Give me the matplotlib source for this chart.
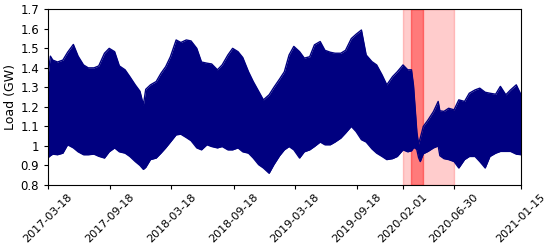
import matplotlib
matplotlib.use("Agg")
import matplotlib.pyplot as plt
import matplotlib.dates as mdates
import pandas as pd

# envelope of the hourly load (GW)
dates = [
    "2017-03-18", "2017-03-25", "2017-04-01", "2017-04-15", "2017-05-01", "2017-05-15",
    "2017-06-01", "2017-06-15", "2017-07-01", "2017-07-15", "2017-08-01", "2017-08-15",
    "2017-09-01", "2017-09-15", "2017-10-01", "2017-10-15", "2017-11-01", "2017-11-15",
    "2017-12-01", "2017-12-15", "2017-12-25", "2018-01-01", "2018-01-15", "2018-02-01",
    "2018-02-15", "2018-03-01", "2018-03-15", "2018-04-01", "2018-04-15", "2018-05-01",
    "2018-05-15", "2018-06-01", "2018-06-15", "2018-07-01", "2018-07-15", "2018-08-01",
    "2018-08-15", "2018-09-01", "2018-09-15", "2018-10-01", "2018-10-15", "2018-11-01",
    "2018-11-15", "2018-12-01", "2018-12-15", "2019-01-01", "2019-01-15", "2019-02-01",
    "2019-02-15", "2019-03-01", "2019-03-15", "2019-04-01", "2019-04-15", "2019-05-01",
    "2019-05-15", "2019-06-01", "2019-06-15", "2019-07-01", "2019-07-15", "2019-08-01",
    "2019-08-15", "2019-09-01", "2019-09-15", "2019-10-01", "2019-10-15", "2019-11-01",
    "2019-11-15", "2019-12-01", "2019-12-15", "2020-01-01", "2020-01-15", "2020-02-01",
    "2020-02-15", "2020-02-26", "2020-03-03", "2020-03-08", "2020-03-13", "2020-03-18",
    "2020-03-23", "2020-04-01", "2020-04-15", "2020-05-01", "2020-05-15", "2020-05-20",
    "2020-06-01", "2020-06-15", "2020-07-01", "2020-07-15", "2020-08-01", "2020-08-15",
    "2020-09-01", "2020-09-15", "2020-10-01", "2020-10-15", "2020-11-01", "2020-11-15",
    "2020-12-01", "2020-12-15", "2021-01-01", "2021-01-15",
]
load_high = [
    1.36, 1.46, 1.44, 1.43, 1.44, 1.48,
    1.52, 1.46, 1.415, 1.40, 1.40, 1.41,
    1.475, 1.50, 1.483, 1.41, 1.39, 1.355,
    1.313, 1.28, 1.21, 1.29, 1.313, 1.33,
    1.372, 1.406, 1.457, 1.543, 1.53, 1.543,
    1.538, 1.50, 1.43, 1.424, 1.42, 1.39,
    1.415, 1.466, 1.50, 1.483, 1.453, 1.38,
    1.33, 1.28, 1.236, 1.262, 1.30, 1.343,
    1.38, 1.466, 1.51, 1.483, 1.45, 1.457,
    1.518, 1.535, 1.49, 1.48, 1.475, 1.475,
    1.49, 1.55, 1.572, 1.594, 1.466, 1.432,
    1.415, 1.364, 1.313, 1.355, 1.38, 1.415,
    1.39, 1.39, 1.31, 1.19, 1.07, 1.01,
    1.04, 1.10, 1.133, 1.176, 1.228, 1.18,
    1.177, 1.193, 1.185, 1.236, 1.228, 1.27,
    1.287, 1.296, 1.275, 1.27, 1.265, 1.305,
    1.262, 1.287, 1.313, 1.262,
]
load_low = [
    0.94, 0.95, 0.958, 0.955, 0.963, 1.006,
    0.99, 0.97, 0.955, 0.955, 0.958, 0.947,
    0.938, 0.97, 0.99, 0.97, 0.963, 0.946,
    0.92, 0.90, 0.88, 0.89, 0.93, 0.938,
    0.963, 0.99, 1.02, 1.057, 1.06, 1.043,
    1.027, 0.99, 0.98, 1.006, 0.997, 0.99,
    0.997, 0.98, 0.98, 0.99, 0.97, 0.963,
    0.938, 0.904, 0.887, 0.86, 0.904, 0.95,
    0.98, 0.997, 0.98, 0.938, 0.97, 0.98,
    0.997, 1.02, 1.006, 1.006, 1.02, 1.04,
    1.066, 1.10, 1.074, 1.032, 1.02, 0.985,
    0.963, 0.946, 0.93, 0.935, 0.946, 0.98,
    0.97, 0.975, 0.99, 0.99, 0.98, 0.94,
    0.92, 0.96, 0.972, 0.99, 1.0, 0.95,
    0.935, 0.93, 0.92, 0.887, 0.93, 0.946,
    0.946, 0.92, 0.887, 0.946, 0.963, 0.972,
    0.972, 0.972, 0.958, 0.955,
]

tick_dates = ["2017-03-18", "2017-09-18", "2018-03-18", "2018-09-18", "2019-03-18",
              "2019-09-18", "2020-02-01", "2020-06-30", "2021-01-15"]
y_ticks = [0.8, 0.9, 1.0, 1.1, 1.2, 1.3, 1.4, 1.5, 1.6, 1.7]
y_tick_labels = ["0.8", "0.9", "1", "1.1", "1.2", "1.3", "1.4", "1.5", "1.6", "1.7"]

wide_span = ("2020-02-01", "2020-06-30")
narrow_span = ("2020-02-26", "2020-03-30")

t = pd.to_datetime(dates)
ticks = pd.to_datetime(tick_dates)

fig = plt.figure(figsize=(5.5, 2.52), dpi=100)
ax = fig.add_axes([0.0873, 0.266, 0.8600, 0.697])

ax.axvspan(pd.Timestamp(wide_span[0]), pd.Timestamp(wide_span[1]),
           color="red", alpha=0.2, zorder=0)
ax.axvspan(pd.Timestamp(narrow_span[0]), pd.Timestamp(narrow_span[1]),
           color="red", alpha=0.4, zorder=0)

ax.fill_between(t, load_low, load_high, color="#000080", linewidth=0, zorder=2)
ax.plot(t, load_high, color="#000080", linewidth=1.0, zorder=2)
ax.plot(t, load_low, color="#000080", linewidth=1.0, zorder=2)

ax.set_xlim(ticks[0], ticks[-1])
ax.set_ylim(0.8, 1.7)
ax.set_xticks(ticks)
ax.xaxis.set_major_formatter(mdates.DateFormatter("%Y-%m-%d"))
ax.set_yticks(y_ticks)
ax.set_yticklabels(y_tick_labels)
plt.setp(ax.get_xticklabels(), rotation=45)
ax.tick_params(axis="x", labelsize=8, length=3, pad=2)
ax.tick_params(axis="y", labelsize=8.5, length=3)
ax.set_ylabel("Load (GW)", fontsize=9, labelpad=2)

fig.savefig("out.png", dpi=100)
